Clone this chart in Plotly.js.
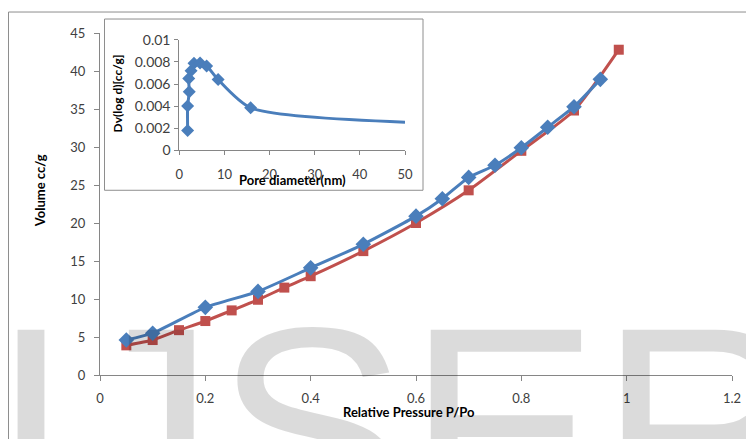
<!DOCTYPE html>
<html>
<head>
<meta charset="utf-8">
<script src="https://cdn.plot.ly/plotly-3.0.1.min.js"></script>
<style>
  html, body { margin: 0; padding: 0; background: #ffffff; }
  #chart { width: 746px; height: 439px; }
</style>
</head>
<body>
<div id="chart"></div>
<script>
// Nitrogen sorption isotherm: adsorption (blue) and desorption (red) branches
const adsP = [0.05, 0.1, 0.2, 0.3, 0.4, 0.5, 0.6, 0.65, 0.7, 0.75, 0.8, 0.85, 0.9, 0.95];
const adsV = [4.6, 5.5, 8.9, 11.0, 14.1, 17.2, 20.9, 23.2, 26.0, 27.6, 29.9, 32.6, 35.3, 38.9];

const desP = [0.05, 0.1, 0.15, 0.2, 0.25, 0.3, 0.35, 0.4, 0.5, 0.6, 0.7, 0.8, 0.9, 0.985];
const desV = [3.9, 4.6, 5.9, 7.1, 8.5, 9.9, 11.5, 13.0, 16.3, 20.0, 24.3, 29.5, 34.8, 42.8];

// Pore size distribution (inset); the last point only carries the line to the axis end
const poreD  = [1.85, 1.85, 2.2, 2.1, 2.6, 3.25, 4.6, 6.05, 8.6, 15.8, 50];
const poreDv = [0.0018, 0.0040, 0.0053, 0.0065, 0.0072, 0.00787, 0.0079, 0.00763, 0.0064, 0.00385, 0.00255];
const poreMarkerSize = [10, 10, 10, 10, 10, 10, 10, 10, 10, 10, 0];

const mainXTicks = [0, 0.2, 0.4, 0.6, 0.8, 1, 1.2];
const mainYTicks = [0, 5, 10, 15, 20, 25, 30, 35, 40, 45];
const insetXTicks = [0, 10, 20, 30, 40, 50];
const insetYTicks = [0, 0.002, 0.004, 0.006, 0.008, 0.01];
const insetYLabels = ['0', '0.002', '0.004', '0.006', '0.008', '0.01'];

const BLUE = '#4a7ebb';
const RED = '#c0504d';
const AXIS = '#868686';
const FONT = 'Lato, "Open Sans", sans-serif';
const tickFont = { family: FONT, size: 13, color: '#404040' };

// pixel helpers for paper-positioned decorations (plot area: x 100..732, y 32.5..375)
const PL = 100, PR = 732, PT = 32.5, PB = 375;
const px = v => (v - PL) / (PR - PL);
const py = v => (PB - v) / (PB - PT);

const traces = [
  {
    x: desP, y: desV, type: 'scatter', mode: 'lines+markers',
    line: { color: RED, width: 3, shape: 'spline', smoothing: 0.6 },
    marker: { symbol: 'square', size: 10, color: RED, opacity: 1 },
    xaxis: 'x', yaxis: 'y', cliponaxis: false
  },
  {
    x: adsP, y: adsV, type: 'scatter', mode: 'lines+markers',
    line: { color: BLUE, width: 3, shape: 'spline', smoothing: 0.6 },
    marker: { symbol: 'diamond', size: 12, color: BLUE, opacity: 1 },
    xaxis: 'x', yaxis: 'y', cliponaxis: false
  },
  {
    x: poreD, y: poreDv, type: 'scatter', mode: 'lines+markers',
    line: { color: BLUE, width: 3, shape: 'spline', smoothing: 0.7 },
    marker: { symbol: 'diamond', size: poreMarkerSize, color: BLUE, opacity: 1,
              line: { width: 0 } },
    xaxis: 'x2', yaxis: 'y2'
  }
];

const centered = { xanchor: 'center', yanchor: 'middle', showarrow: false };

const layout = {
  width: 746, height: 439,
  margin: { l: PL, r: 746 - PR, t: PT, b: 439 - PB, pad: 0 },
  paper_bgcolor: '#ffffff',
  plot_bgcolor: 'rgba(0,0,0,0)',
  showlegend: false,
  font: { family: FONT, color: '#000000' },
  xaxis: {
    range: [0, 1.2], tickvals: mainXTicks, ticks: 'outside', ticklen: 5, tickcolor: AXIS,
    showline: true, linecolor: AXIS, linewidth: 1, showgrid: false, zeroline: false,
    tickfont: tickFont, ticklabelstandoff: 6
  },
  yaxis: {
    range: [0, 45], tickvals: mainYTicks, ticks: 'outside', ticklen: 5, tickcolor: AXIS,
    showline: true, linecolor: AXIS, linewidth: 1, showgrid: false, zeroline: false,
    tickfont: tickFont, ticklabelstandoff: 6
  },
  xaxis2: {
    domain: [px(179.3), px(405)], anchor: 'y2',
    range: [0, 50], tickvals: insetXTicks, ticks: 'outside', ticklen: 4, tickcolor: AXIS,
    showline: true, linecolor: AXIS, linewidth: 1, showgrid: false, zeroline: false,
    tickfont: tickFont, ticklabelstandoff: 8
  },
  yaxis2: {
    domain: [py(150), py(39.3)], anchor: 'x2',
    range: [0, 0.01], tickvals: insetYTicks, ticktext: insetYLabels, ticks: 'outside', ticklen: 4,
    tickcolor: AXIS, showline: true, linecolor: AXIS, linewidth: 1, showgrid: false, zeroline: false,
    tickfont: { family: FONT, size: 14, color: '#404040' }, ticklabelstandoff: 1
  },
  shapes: [
    // outer chart frame
    { type: 'rect', xref: 'paper', yref: 'paper', layer: 'below',
      x0: px(8.5), x1: px(770), y0: py(470), y1: py(11.5),
      line: { color: '#8e8e8e', width: 1 }, fillcolor: 'rgba(0,0,0,0)' },
    // inset panel
    { type: 'rect', xref: 'paper', yref: 'paper', layer: 'below',
      x0: px(104.5), x1: px(423), y0: py(190), y1: py(18.5),
      line: { color: '#8e8e8e', width: 1 }, fillcolor: '#ffffff' }
  ],
  annotations: [
    Object.assign({ text: '<b>Volume cc/g</b>', xref: 'paper', yref: 'paper', x: px(40), y: py(190),
      textangle: -90, font: { family: FONT, size: 13, color: '#000' } }, centered),
    Object.assign({ text: '<b>Relative Pressure P/Po</b>', xref: 'paper', yref: 'paper', x: px(409), y: py(412),
      font: { family: FONT, size: 13, color: '#000' } }, centered),
    Object.assign({ text: '<b>Dv(log d)[cc/g]</b>', xref: 'paper', yref: 'paper', x: px(117), y: py(93),
      textangle: -90, font: { family: FONT, size: 12, color: '#000' } }, centered),
    Object.assign({ text: '<b>Pore diameter(nm)</b>', xref: 'paper', yref: 'paper', x: px(292), y: py(180),
      font: { family: FONT, size: 13, color: '#000' } }, centered),
    // publisher watermark
    { text: 'IJSER', xref: 'paper', yref: 'paper', x: px(-11), y: py(264.5),
      xanchor: 'left', yanchor: 'top', showarrow: false,
      font: { family: '"Liberation Sans", Arial, sans-serif', size: 288, color: 'rgba(0,0,0,0.14)' } }
  ]
};

Plotly.newPlot('chart', traces, layout, { displayModeBar: false, staticPlot: true });
</script>
</body>
</html>
